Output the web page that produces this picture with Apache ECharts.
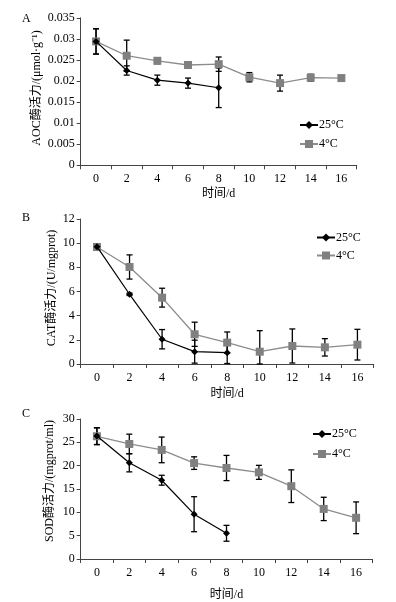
<!DOCTYPE html>
<html><head><meta charset="utf-8">
<script src="https://cdn.jsdelivr.net/npm/echarts@6/dist/echarts.min.js"></script>
<style>html,body{margin:0;padding:0;background:#fff}#c{width:396px;height:602px}</style>
</head><body><div id="c"></div>
<script>
var days = ['0','2','4','6','8','10','12','14','16'];
var seriesNames = ['25°C','4°C'];
// A: AOC
var aoc25 = [0.0294, 0.0225, 0.0202, 0.0195, 0.0184];
var aoc25Err = [0.0030, 0.0011, 0.0012, 0.0012, 0.0047];
var aoc4 = [0.0294, 0.0260, 0.0248, 0.0238, 0.0240, 0.0209, 0.0195, 0.0208, 0.0207];
var aoc4Err = [0.0030, 0.0037, 0.0007, 0.0003, 0.0017, 0.0011, 0.0019, 0.0008, 0.0002];
// B: CAT
var cat25 = [9.71, 5.77, 2.05, 1.02, 0.94];
var cat25Err = [0.25, 0.10, 0.80, 0.95, 0.90];
var cat4 = [9.68, 8.03, 5.49, 2.46, 1.77, 1.02, 1.49, 1.38, 1.60];
var cat4Err = [0.20, 1.00, 0.78, 1.00, 0.88, 1.74, 1.41, 0.72, 1.27];
// C: SOD
var sod25 = [26.34, 20.62, 16.88, 9.60, 5.51];
var sod25Err = [1.80, 1.95, 1.06, 3.75, 1.70];
var sod4 = [26.30, 24.65, 23.38, 20.55, 19.50, 18.57, 15.60, 10.73, 8.83];
var sod4Err = [1.80, 2.10, 2.75, 1.35, 2.70, 1.50, 3.50, 2.50, 3.40];

var yNames = ['AOC酶活力/(μmol·g⁻¹)', 'CAT酶活力/(U/mgprot)', 'SOD酶活力/(mgprot/ml)'];
var yMax = [0.035, 12, 30];
var yInt = [0.005, 2, 5];
var panelLetters = ['A','B','C'];

var serif = '"Liberation Serif","Times New Roman",serif';
var cjk = '"Liberation Serif","Noto Sans CJK SC",serif';

var grids = [
  {left: 80.7, width: 276, top: 17.8, height: 147.5},
  {left: 80.7, width: 293, top: 219, height: 145},
  {left: 80.7, width: 291.6, top: 419, height: 141.3}
];
var legendPos = [
  {left: 299, top: 119, itemGap: 7},
  {left: 316, top: 231.5, itemGap: 6},
  {left: 312, top: 428, itemGap: 8}
];
var letterPos = [8, 207, 403];
var yTitlePos = [[37, 88], [52, 288], [50, 481]];
var xNameGap = [23, 24, 30];

var panels = [[aoc25, aoc25Err, aoc4, aoc4Err],[cat25, cat25Err, cat4, cat4Err],[sod25, sod25Err, sod4, sod4Err]];

function errData(vals, errs){
  return vals.map(function(v,i){ return [i, Math.max(0, v-errs[i]), v+errs[i]]; });
}
function errRender(params, api){
  var x = api.value(0);
  var lo = api.coord([x, api.value(1)]);
  var hi = api.coord([x, api.value(2)]);
  var w = 3;
  var st = {stroke:'#000', lineWidth:1.3};
  return {type:'group', children:[
    {type:'line', shape:{x1:lo[0],y1:lo[1],x2:hi[0],y2:hi[1]}, style:st},
    {type:'line', shape:{x1:lo[0]-w,y1:lo[1],x2:lo[0]+w,y2:lo[1]}, style:st},
    {type:'line', shape:{x1:hi[0]-w,y1:hi[1],x2:hi[0]+w,y2:hi[1]}, style:st}
  ]};
}

var option = {
  animation:false,
  backgroundColor:'#fff',
  grid: grids,
  title: panelLetters.map(function(l,i){return {text:l, left:17, top:letterPos[i], textStyle:{fontFamily:serif, fontSize:12, fontWeight:'normal', color:'#000'}};}),
  graphic: yNames.map(function(n,i){return {
    type:'text', x:yTitlePos[i][0], y:yTitlePos[i][1], rotation:Math.PI/2,
    style:{text:n, font:'12px ' + cjk, fill:'#000', align:'center', verticalAlign:'middle'}
  };}),
  legend: legendPos.map(function(p,i){return {
    orient:'vertical', left:p.left, top:p.top, itemGap:p.itemGap, itemWidth:18, itemHeight:10, padding:0,
    data: seriesNames.map(function(n){return {name:n};}),
    textStyle:{fontFamily:serif, fontSize:12, color:'#000', padding:[0,0,0,-4]}, selectedMode:false
  };}),
  xAxis: grids.map(function(g,i){return {
    type:'category', gridIndex:i, data:days, boundaryGap:true,
    name:'时间/d', nameLocation:'middle', nameGap:xNameGap[i],
    nameTextStyle:{fontFamily:cjk, fontSize:12, color:'#000'},
    axisLine:{lineStyle:{color:'#444', width:1}},
    axisTick:{show:true, length:4, lineStyle:{color:'#444'}},
    axisLabel:{fontFamily:serif, fontSize:12, color:'#000', margin:8}
  };}),
  yAxis: grids.map(function(g,i){return {
    type:'value', gridIndex:i, min:0, max:yMax[i], interval:yInt[i],
    splitLine:{show:false},
    axisLine:{show:true, lineStyle:{color:'#444', width:1}},
    axisTick:{show:true, length:4, lineStyle:{color:'#444'}},
    axisLabel:{fontFamily:serif, fontSize:12, color:'#000', margin:6}
  };}),
  series: []
};

panels.forEach(function(p,i){
  option.series.push({type:'custom', name:'err25_'+i, xAxisIndex:i, yAxisIndex:i, renderItem:errRender, data:errData(p[0],p[1]), z:2, silent:true});
  option.series.push({type:'custom', name:'err4_'+i, xAxisIndex:i, yAxisIndex:i, renderItem:errRender, data:errData(p[2],p[3]), z:2, silent:true});
  option.series.push({type:'line', name:seriesNames[0], xAxisIndex:i, yAxisIndex:i, data:p[0],
    symbol:'diamond', symbolSize:7, itemStyle:{color:'#000'}, lineStyle:{color:'#000', width:1.2}, z:4});
  option.series.push({type:'line', name:seriesNames[1], xAxisIndex:i, yAxisIndex:i, data:p[2],
    symbol:'rect', symbolSize:8, itemStyle:{color:'#808080'}, lineStyle:{color:'#8c8c8c', width:1.3}, z:3});
});

var chart = echarts.init(document.getElementById('c'), null, {renderer:'canvas'});
chart.setOption(option);
</script></body></html>
